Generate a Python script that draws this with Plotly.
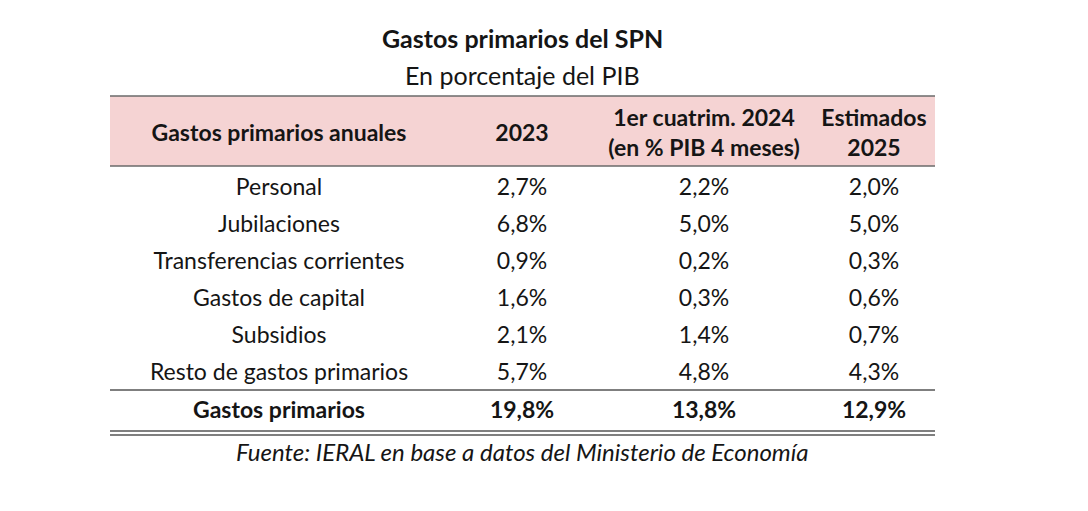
import plotly.graph_objects as go

# table content
title = "Gastos primarios del SPN"
subtitle = "En porcentaje del PIB"
headers = ["Gastos primarios anuales", "2023", "1er cuatrim. 2024<br>(en % PIB 4 meses)", "Estimados<br>2025"]
rubros = ["Personal", "Jubilaciones", "Transferencias corrientes", "Gastos de capital",
          "Subsidios", "Resto de gastos primarios"]
v2023 = [2.7, 6.8, 0.9, 1.6, 2.1, 5.7]
v2024 = [2.2, 5.0, 0.2, 0.3, 1.4, 4.8]
v2025 = [2.0, 5.0, 0.3, 0.6, 0.7, 4.3]
total_label = "Gastos primarios"
totales = [19.8, 13.8, 12.9]
fuente = "Fuente: IERAL en base a datos del Ministerio de Economía"

W, H = 1088, 511
OFF = 8  # page body margin
FONT = "Lato"
INK = "#151515"
FS = 23
col_x = [279, 522, 704, 874]
left, right = 110, 935
head_top, head_bot = 96, 166
row0, row_step = 189, 37
total_y = 412


def pct(v):
    return f"{v:.1f}%".replace(".", ",")


fig = go.Figure()

# header
fig.add_trace(go.Scatter(
    x=col_x, y=[135] * 4, mode="text",
    text=[f"<b>{h}</b>" for h in headers],
    textfont=dict(family=FONT, size=FS, color=INK),
    hoverinfo="skip"))

# body rows
ys = [row0 + i * row_step for i in range(len(rubros))]
for cx, vals in zip(col_x, [rubros, v2023, v2024, v2025]):
    txt = vals if isinstance(vals[0], str) else [pct(v) for v in vals]
    fig.add_trace(go.Scatter(
        x=[cx] * len(txt), y=ys, mode="text", text=txt,
        textfont=dict(family=FONT, size=FS, color=INK),
        hoverinfo="skip"))

# total row
fig.add_trace(go.Scatter(
    x=col_x, y=[total_y] * 4, mode="text",
    text=[f"<b>{total_label}</b>"] + [f"<b>{pct(v)}</b>" for v in totales],
    textfont=dict(family=FONT, size=FS, color=INK),
    hoverinfo="skip"))

shapes = [
    dict(type="rect", x0=left, x1=right, y0=head_top, y1=head_bot,
         fillcolor="#F5D3D3", line=dict(width=0), layer="below"),
    dict(type="line", x0=left, x1=right, y0=head_top, y1=head_top,
         line=dict(color="#6a6a6a", width=1.5)),
    dict(type="line", x0=left, x1=right, y0=head_bot, y1=head_bot,
         line=dict(color="#6a6a6a", width=1.5)),
    dict(type="line", x0=left, x1=right, y0=390, y1=390,
         line=dict(color="#555555", width=1.5)),
    dict(type="line", x0=left, x1=right, y0=431, y1=431,
         line=dict(color="#555555", width=1.5)),
    dict(type="line", x0=left, x1=right, y0=435, y1=435,
         line=dict(color="#555555", width=1.5)),
]

fig.update_layout(
    width=W, height=H,
    margin=dict(l=0, r=0, t=0, b=0),
    paper_bgcolor="white", plot_bgcolor="white",
    showlegend=False,
    xaxis=dict(range=[OFF, W + OFF], visible=False, fixedrange=True),
    yaxis=dict(range=[H + OFF, OFF], visible=False, fixedrange=True),
    shapes=shapes,
    annotations=[
        dict(x=522, y=38, xref="x", yref="y", text=f"<b>{title}</b>", showarrow=False,
             font=dict(family=FONT, size=25, color=INK)),
        dict(x=522, y=75, xref="x", yref="y", text=subtitle, showarrow=False,
             font=dict(family=FONT, size=25, color=INK)),
        dict(x=522, y=451, xref="x", yref="y", text=f"<i>{fuente}</i>", showarrow=False,
             font=dict(family=FONT, size=24, color=INK)),
    ],
)

fig.write_html("out.html")
